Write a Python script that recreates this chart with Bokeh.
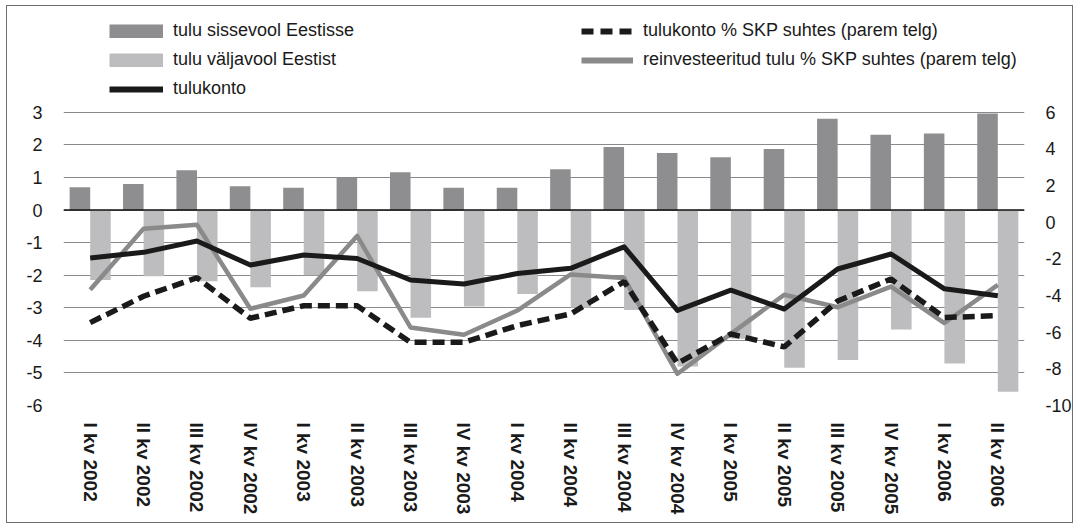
from bokeh.plotting import figure
from bokeh.models import (FactorRange, Range1d, LinearAxis, FixedTicker, Legend,
                          LegendItem, Span, ColumnDataSource)
from bokeh.transform import dodge
from bokeh.embed import file_html
from bokeh.resources import INLINE

cats = ["I kv 2002", "II kv 2002", "III kv 2002", "IV kv 2002",
        "I kv 2003", "II kv 2003", "III kv 2003", "IV kv 2003",
        "I kv 2004", "II kv 2004", "III kv 2004", "IV kv 2004",
        "I kv 2005", "II kv 2005", "III kv 2005", "IV kv 2005",
        "I kv 2006", "II kv 2006"]

# left axis (bars + tulukonto)
sissevool = [0.70, 0.80, 1.22, 0.73, 0.68, 0.98, 1.16, 0.68, 0.68,
             1.25, 1.93, 1.75, 1.62, 1.87, 2.80, 2.31, 2.35, 2.96]
valjavool = [-2.15, -2.03, -2.19, -2.37, -2.00, -2.49, -3.31, -2.96, -2.58,
             -3.00, -3.07, -4.80, -3.95, -4.84, -4.60, -3.67, -4.71, -5.58]
tulukonto = [-1.47, -1.30, -0.95, -1.69, -1.38, -1.49, -2.15, -2.27, -1.95,
             -1.79, -1.13, -3.08, -2.46, -3.04, -1.81, -1.35, -2.42, -2.63]
# right axis
tulukonto_skp = [-5.48, -4.04, -3.03, -5.24, -4.56, -4.56, -6.55, -6.55, -5.64,
                 -5.00, -3.24, -7.70, -6.10, -6.80, -4.30, -3.10, -5.20, -5.10]
reinvest_skp = [-3.69, -0.35, -0.14, -4.72, -4.00, -0.75, -5.74, -6.14, -4.82,
                -2.85, -3.05, -8.27, -6.09, -3.96, -4.64, -3.51, -5.50, -3.42]

left_ticks = [3, 2, 1, 0, -1, -2, -3, -4, -5, -6]
right_ticks = [6, 4, 2, 0, -2, -4, -6, -8, -10]

labels = ["tulu sissevool Eestisse", "tulu väljavool Eestist", "tulukonto",
          "tulukonto % SKP suhtes (parem telg)",
          "reinvesteeritud tulu % SKP suhtes (parem telg)"]

DARK = "#8e8e90"
LIGHT = "#bdbdbf"
BLACK = "#1a1a1a"
GREY = "#8a8a8a"
FONT = "Liberation Sans"
TXT = "#1a1a1a"

src = ColumnDataSource(dict(cat=cats, sissevool=sissevool, valjavool=valjavool,
                            tulukonto=tulukonto, tulukonto_skp=tulukonto_skp,
                            reinvest_skp=reinvest_skp))

# the frame extends above the top tick (3 / 6) to leave room for the legend
p = figure(x_range=FactorRange(factors=cats, range_padding=0),
           y_range=Range1d(-6, 6), width=1067, height=518,
           output_backend="svg", toolbar_location=None,
           min_border_left=56, min_border_right=42,
           min_border_top=8, min_border_bottom=119,
           styles={"border": "1px solid #6e6e6e", "margin-left": "6px",
                   "margin-top": "5px"})
p.outline_line_color = None
p.extra_y_ranges = {"right": Range1d(-10, 6 + 16 / 3),
                    "hidden": Range1d(1000, 1001)}  # for legend swatches only

p.xgrid.visible = False
p.ygrid.ticker = FixedTicker(ticks=left_ticks)
p.ygrid.grid_line_color = "#8a8a8a"
p.ygrid.grid_line_width = 1

yl = p.yaxis[0]
yl.ticker = FixedTicker(ticks=left_ticks)
yl.major_label_overrides = {t: str(t) for t in left_ticks}
yr = LinearAxis(y_range_name="right", ticker=FixedTicker(ticks=right_ticks))
yr.major_label_overrides = {t: str(t) for t in right_ticks}
p.add_layout(yr, "right")
for ax in (yl, yr):
    ax.axis_line_color = None
    ax.major_tick_line_color = None
    ax.minor_tick_line_color = None
    ax.major_label_text_font = FONT
    ax.major_label_text_font_size = "18px"
    ax.major_label_text_color = TXT
yl.major_label_standoff = 15
yr.major_label_standoff = 15

xa = p.xaxis[0]
xa.axis_line_color = None
xa.major_tick_line_color = None
xa.minor_tick_line_color = None
xa.major_label_orientation = "vertical"
xa.major_label_text_font = FONT
xa.major_label_text_font_style = "bold"
xa.major_label_text_font_size = "19px"
xa.major_label_text_color = TXT
xa.major_label_standoff = 11

p.vbar(x=dodge("cat", -0.1925, range=p.x_range), top="sissevool", bottom=0,
       width=0.385, source=src, fill_color=DARK, line_color=None)
p.vbar(x=dodge("cat", 0.1925, range=p.x_range), top=0, bottom="valjavool",
       width=0.385, source=src, fill_color=LIGHT, line_color=None)

p.add_layout(Span(location=0, dimension="width", line_color="#111111", line_width=1.5))

p.line(x="cat", y="reinvest_skp", source=src, y_range_name="right",
       line_color=GREY, line_width=4.5, line_join="round")
p.line(x="cat", y="tulukonto", source=src, line_color=BLACK, line_width=5,
       line_join="round")
p.line(x="cat", y="tulukonto_skp", source=src, y_range_name="right",
       line_color=BLACK, line_width=5.5, line_dash="12 6")

# legend swatches: same data, drawn on a hidden range (outside the frame)
sw = dict(x="cat", source=src, y_range_name="hidden")
r_dark = p.line(y="sissevool", line_color=DARK, line_width=14, line_cap="butt", **sw)
r_light = p.line(y="valjavool", line_color=LIGHT, line_width=14, line_cap="butt", **sw)
r_black = p.line(y="tulukonto", line_color=BLACK, line_width=6, **sw)
r_dash = p.line(y="tulukonto_skp", line_color=BLACK, line_width=6, line_dash="12 7", **sw)
r_grey = p.line(y="reinvest_skp", line_color=GREY, line_width=6, **sw)


def mk_legend(items, loc, gw):
    return Legend(items=items, location=loc, orientation="vertical",
                  padding=0, margin=0, spacing=8, glyph_width=gw, glyph_height=14,
                  label_height=21, label_standoff=10,
                  border_line_color=None, background_fill_alpha=0,
                  label_text_font=FONT, label_text_font_size="18px",
                  label_text_color=TXT)


leg1 = mk_legend([LegendItem(label=labels[0], renderers=[r_dark]),
                  LegendItem(label=labels[1], renderers=[r_light]),
                  LegendItem(label=labels[2], renderers=[r_black])], (46, 306), 54)
leg2 = mk_legend([LegendItem(label=labels[3], renderers=[r_dash]),
                  LegendItem(label=labels[4], renderers=[r_grey])], (518, 335), 52)
p.add_layout(leg1)
p.add_layout(leg2)

open("out.html", "w").write(file_html(p, INLINE))
